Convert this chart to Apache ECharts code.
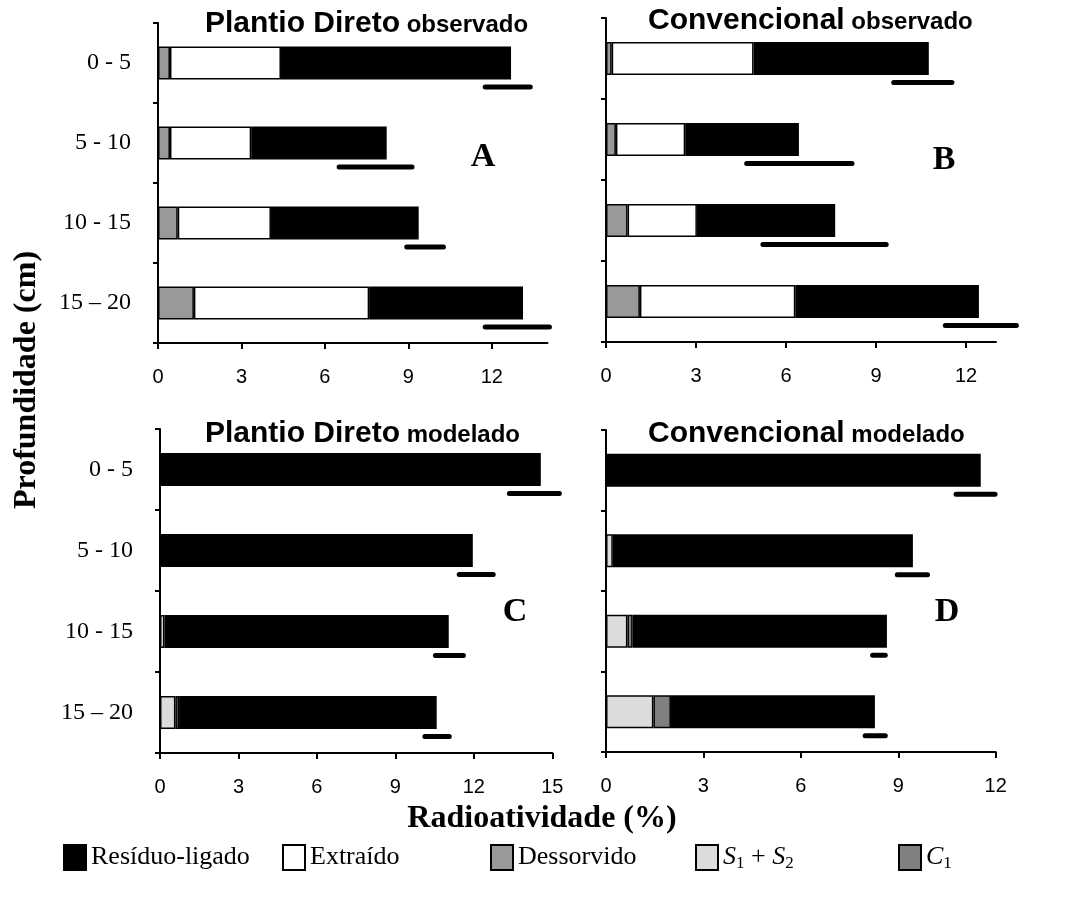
<!DOCTYPE html>
<html><head><meta charset="utf-8">
<script src="https://cdn.jsdelivr.net/npm/echarts@6/dist/echarts.min.js"></script>
<style>html,body{margin:0;padding:0;background:#fff}#c{width:1079px;height:907px}</style>
</head><body><div id="c"></div>
<script>
// ---------- data ----------
const categories = ['0 - 5', '5 - 10', '10 - 15', '15 – 20'];

// Panel A: Plantio Direto observado (segment lengths)
const aDessorvido = [0.43, 0.43, 0.71, 1.29];
const aExtraido   = [3.99, 2.92, 3.35, 6.30];
const aResiduo    = [8.27, 4.87, 5.31, 5.53];
const aRangeLow   = [11.76, 6.51, 8.94, 11.76];
const aRangeHigh  = [13.38, 9.13, 10.26, 14.07];

// Panel B: Convencional observado
const bDessorvido = [0.19, 0.33, 0.72, 1.13];
const bExtraido   = [4.73, 2.31, 2.31, 5.18];
const bResiduo    = [5.84, 3.79, 4.61, 6.12];
const bRangeLow   = [9.59, 4.69, 5.23, 11.31];
const bRangeHigh  = [11.53, 8.20, 9.34, 13.68];

// Panel C: Plantio Direto modelado
const cS1S2    = [0, 0, 0.17, 0.59];
const cC1      = [0, 0, 0, 0.14];
const cResiduo = [14.56, 11.96, 10.87, 9.85];
const cRangeLow  = [13.36, 11.44, 10.53, 10.13];
const cRangeHigh = [15.27, 12.74, 11.60, 11.06];

// Panel D: Convencional modelado
const dS1S2    = [0, 0.21, 0.66, 1.46];
const dC1      = [0, 0, 0.16, 0.54];
const dResiduo = [11.54, 9.24, 7.83, 6.28];
const dRangeLow  = [10.78, 8.97, 8.21, 7.98];
const dRangeHigh = [11.98, 9.90, 8.60, 8.60];

// axis ticks / extents
const ticksA = [0, 3, 6, 9, 12];
const ticksB = [0, 3, 6, 9, 12];
const ticksC = [0, 3, 6, 9, 12, 15];
const ticksD = [0, 3, 6, 9, 12];
const axisMax = [14, 13, 15, 12];

// ---------- styling ----------
const SERIF = '"Liberation Serif", "Times New Roman", serif';
const SANS = '"Liberation Sans", Arial, sans-serif';
const colors = {
  'Resíduo-ligado': '#000000',
  'Extraído': '#ffffff',
  'Dessorvido': '#999999',
  'S1 + S2': '#dcdcdc',
  'C1': '#808080'
};

const grids = [
  {left: 158, top: 23, width: 389.5, height: 320},
  {left: 606, top: 18, width: 390, height: 324},
  {left: 160, top: 429, width: 392.3, height: 324},
  {left: 606, top: 430, width: 389.7, height: 322}
];
const ticks = [ticksA, ticksB, ticksC, ticksD];

const xAxes = grids.map((g, i) => ({
  type: 'value', gridIndex: i, min: 0, max: axisMax[i],
  axisLine: {show: true, lineStyle: {color: '#000', width: 2}},
  axisTick: {show: true, length: 6, lineStyle: {color: '#000', width: 2}, customValues: ticks[i]},
  axisLabel: {customValues: ticks[i], fontFamily: SANS, fontSize: 20, color: '#000', margin: 24},
  splitLine: {show: false}
}));
const yAxes = grids.map((g, i) => ({
  type: 'category', gridIndex: i, data: categories, inverse: true,
  axisLine: {show: true, lineStyle: {color: '#000', width: 2}},
  axisTick: {show: true, length: 5, lineStyle: {color: '#000', width: 2}},
  axisLabel: {show: i === 0 || i === 2, fontFamily: SERIF, fontSize: 24, color: '#000', margin: 27}
}));

function cleanData(arr) {
  return arr.map(v => v === 0 ? {value: 0, itemStyle: {borderWidth: 0}} : v);
}
function barSeries(name, arr, idx) {
  return {
    name, type: 'bar', xAxisIndex: idx, yAxisIndex: idx, stack: 'p' + idx,
    barWidth: 33, data: cleanData(arr),
    itemStyle: {color: colors[name], borderColor: '#000', borderWidth: 1.5},
    emphasis: {disabled: true}, animation: false
  };
}
function rangeSeries(low, high, idx) {
  return {
    type: 'custom', xAxisIndex: idx, yAxisIndex: idx, clip: false, z: 5,
    data: low.map((l, i) => [i, l, high[i]]),
    encode: {x: [1, 2], y: 0},
    renderItem: function (params, api) {
      const c = api.value(0);
      const p1 = api.coord([api.value(1), c]);
      const p2 = api.coord([api.value(2), c]);
      const off = 24;
      return {
        type: 'line',
        shape: {x1: p1[0], y1: p1[1] + off, x2: p2[0], y2: p2[1] + off},
        style: {stroke: '#000', lineWidth: 5, lineCap: 'round'}
      };
    },
    animation: false
  };
}

const series = [
  barSeries('Dessorvido', aDessorvido, 0),
  barSeries('Extraído', aExtraido, 0),
  barSeries('Resíduo-ligado', aResiduo, 0),
  rangeSeries(aRangeLow, aRangeHigh, 0),
  barSeries('Dessorvido', bDessorvido, 1),
  barSeries('Extraído', bExtraido, 1),
  barSeries('Resíduo-ligado', bResiduo, 1),
  rangeSeries(bRangeLow, bRangeHigh, 1),
  barSeries('S1 + S2', cS1S2, 2),
  barSeries('C1', cC1, 2),
  barSeries('Resíduo-ligado', cResiduo, 2),
  rangeSeries(cRangeLow, cRangeHigh, 2),
  barSeries('S1 + S2', dS1S2, 3),
  barSeries('C1', dC1, 3),
  barSeries('Resíduo-ligado', dResiduo, 3),
  rangeSeries(dRangeLow, dRangeHigh, 3)
];

const legendNames = ['Resíduo-ligado', 'Extraído', 'Dessorvido', 'S1 + S2', 'C1'];
const legendLefts = [63, 282, 490, 695, 898];
const legendRich = {
  t: {fontFamily: SERIF, fontSize: 26, color: '#000', lineHeight: 30},
  i: {fontFamily: SERIF, fontSize: 26, fontStyle: 'italic', color: '#000', lineHeight: 30},
  s: {fontFamily: SERIF, fontSize: 17, color: '#000', lineHeight: 12, verticalAlign: 'bottom'}
};
const legends = legendNames.map((n, k) => ({
  data: [n], left: legendLefts[k], top: 844, padding: 0,
  itemWidth: 22, itemHeight: 25, icon: 'rect', selectedMode: false,
  textStyle: {fontFamily: SERIF, fontSize: 26, color: '#000', rich: legendRich},
  formatter: function (name) {
    if (name === 'S1 + S2') return '{i|S}{s|1}{t| + }{i|S}{s|2}';
    if (name === 'C1') return '{i|C}{s|1}';
    return '{t|' + name + '}';
  }
}));

const titleRich = {
  a: {fontFamily: SANS, fontWeight: 'bold', fontSize: 30, color: '#000', lineHeight: 30, verticalAlign: 'bottom'},
  b: {fontFamily: SANS, fontWeight: 'bold', fontSize: 24, color: '#000', lineHeight: 24, verticalAlign: 'bottom', padding: [0, 0, 2, 0]}
};
function titleText(x, y, big, small) {
  return {type: 'text', x, y, z: 100, style: {text: '{a|' + big + '}  {b|' + small + '}', rich: titleRich, verticalAlign: 'middle', textAlign: 'left'}};
}
function letter(x, y, t) {
  return {type: 'text', x, y, z: 100, style: {text: t, fontFamily: SERIF, fontWeight: 'bold', fontSize: 34, fill: '#000', textAlign: 'center', verticalAlign: 'middle'}};
}

const option = {
  backgroundColor: '#fff',
  animation: false,
  grid: grids,
  xAxis: xAxes,
  yAxis: yAxes,
  legend: legends,
  series,
  graphic: [
    titleText(205, 24, 'Plantio Direto', 'observado'),
    titleText(648, 21, 'Convencional', 'observado'),
    titleText(205, 434, 'Plantio Direto', 'modelado'),
    titleText(648, 434, 'Convencional', 'modelado'),
    letter(483, 157, 'A'),
    letter(944, 160, 'B'),
    letter(515, 612, 'C'),
    letter(947, 612, 'D'),
    {type: 'text', x: 542, y: 819, z: 100, style: {text: 'Radioatividade (%)', fontFamily: SERIF, fontWeight: 'bold', fontSize: 32, fill: '#000', textAlign: 'center', verticalAlign: 'middle'}},
    {type: 'text', x: 27, y: 380, z: 100, rotation: Math.PI / 2, style: {text: 'Profundidade (cm)', fontFamily: SERIF, fontWeight: 'bold', fontSize: 32, fill: '#000', textAlign: 'center', verticalAlign: 'middle'}}
  ]
};
const chart = echarts.init(document.getElementById('c'), null, {renderer: 'canvas'});
chart.setOption(option);
</script>
</body></html>
